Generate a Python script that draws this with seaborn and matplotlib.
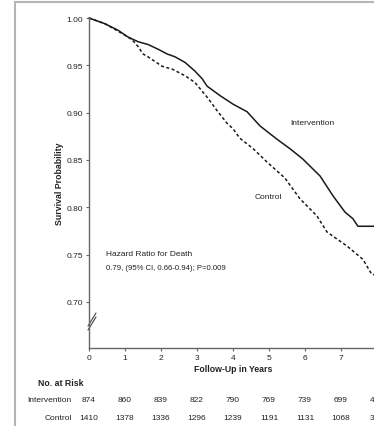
import matplotlib
matplotlib.use("Agg")
import matplotlib.pyplot as plt
import matplotlib.transforms as mtransforms
from matplotlib.lines import Line2D
import seaborn as sns
import pandas as pd

# Kaplan-Meier survival estimates (years, probability)
intervention_t = [0.00, 0.44, 0.81, 1.08, 1.36, 1.64, 1.92, 2.17, 2.39, 2.67, 2.94, 3.14,
                  3.28, 3.64, 4.00, 4.39, 4.75, 5.22, 5.58, 5.94, 6.42, 6.78, 7.11, 7.33,
                  7.47, 8.50]
intervention_s = [1.000, 0.994, 0.987, 0.980, 0.975, 0.972, 0.967, 0.962, 0.959, 0.953,
                  0.944, 0.936, 0.928, 0.918, 0.909, 0.901, 0.886, 0.872, 0.862, 0.851,
                  0.833, 0.812, 0.795, 0.788, 0.780, 0.780]

control_t = [0.00, 0.44, 0.81, 1.08, 1.22, 1.36, 1.50, 1.64, 2.03, 2.31, 2.67, 2.94,
             3.31, 3.56, 3.83, 4.00, 4.19, 4.56, 4.94, 5.44, 5.86, 6.33, 6.61, 7.17,
             7.61, 7.81, 7.86, 8.50]
control_s = [1.000, 0.994, 0.986, 0.980, 0.976, 0.970, 0.962, 0.959, 0.949, 0.946,
             0.939, 0.932, 0.915, 0.902, 0.889, 0.883, 0.873, 0.862, 0.848, 0.831,
             0.809, 0.791, 0.774, 0.759, 0.745, 0.732, 0.729, 0.729]

# Number at risk at each yearly tick
risk_years = [0, 1, 2, 3, 4, 5, 6, 7, 8]
risk_intervention = [874, 860, 839, 822, 790, 769, 739, 699, 452]
risk_control = [1410, 1378, 1336, 1296, 1239, 1191, 1131, 1068, 381]

y_ticks = [0.70, 0.75, 0.80, 0.85, 0.90, 0.95, 1.00]
x_ticks = [0, 1, 2, 3, 4, 5, 6, 7, 8]

sns.set_style("ticks")
plt.rcParams["font.family"] = ["Liberation Sans", "DejaVu Sans"]
TXT = "#222222"
AXC = "#666666"

W, H = 374, 427
fig = plt.figure(figsize=(W / 100, H / 100), dpi=100)
fig.patch.set_facecolor("white")

# axis box in pixel terms: x 89..377, y 19..349
ax = fig.add_axes([89 / W, 1 - 349 / H, 288 / W, 330 / H])
ax.set_facecolor("white")

df_i = pd.DataFrame({"t": intervention_t, "s": intervention_s})
df_c = pd.DataFrame({"t": control_t, "s": control_s})
sns.lineplot(data=df_i, x="t", y="s", ax=ax, color="#1a1a1a", lw=1.1,
             estimator=None, sort=False, clip_on=False)
sns.lineplot(data=df_c, x="t", y="s", ax=ax, color="#1a1a1a", lw=1.1,
             estimator=None, sort=False, dashes=False, clip_on=False,
             linestyle=(0, (2.0, 1.6)))

ax.set_xlim(0, 8)
ax.set_ylim(0.6514, 1.0)
ax.set_xticks(x_ticks)
ax.set_xticklabels([str(v) for v in x_ticks])
ax.set_yticks(y_ticks)
ax.set_yticklabels([f"{v:.2f}" for v in y_ticks])
ax.set_xlabel("")
ax.set_ylabel("")
for side in ("top", "right"):
    ax.spines[side].set_visible(False)
for side in ("left", "bottom"):
    ax.spines[side].set_color(AXC)
    ax.spines[side].set_linewidth(1.0)
ax.tick_params(axis="both", length=2.5, width=0.8, color=AXC, labelsize=6,
               labelcolor=TXT, pad=2)

# axis break marks on the y axis
for dy in (0.0, 4.0):
    x0, y0 = 88 - 89, 331 - dy
    x1, y1 = 96 - 89, 318 - dy
    tr = ax.transAxes
    p0 = (x0 / 288, 1 - (y0 - 19) / 330)
    p1 = (x1 / 288, 1 - (y1 - 19) / 330)
    ax.add_line(Line2D([p0[0], p1[0]], [p0[1], p1[1]], transform=tr,
                       color="#444444", lw=0.8, clip_on=False))

# curve labels and hazard ratio note
ax.text(5.58, 0.890, "Intervention", fontsize=6, color=TXT, va="center", ha="left")
ax.text(4.61, 0.811, "Control", fontsize=6, color=TXT, va="center", ha="left")
ax.text(0.47, 0.751, "Hazard Ratio for Death", fontsize=6, color=TXT, va="center")
ax.text(0.47, 0.736, "0.79, (95% CI, 0.66-0.94); P=0.009", fontsize=5.6,
        color=TXT, va="center")

# axis titles
blend = mtransforms.blended_transform_factory(ax.transData, fig.transFigure)
ax.text(4, 1 - 370 / H, "Follow-Up in Years", transform=blend, ha="center",
        va="center", fontsize=6.3, fontweight="bold", color=TXT)
fig.text(59 / W, 1 - 184 / H, "Survival Probability", rotation=90, ha="center",
         va="center", fontsize=6.3, fontweight="bold", color=TXT)

# number-at-risk table
fig.text(61 / W, 1 - 384 / H, "No. at Risk", ha="center", va="center",
         fontsize=6.3, fontweight="bold", color=TXT)
fig.text(72 / W, 1 - 401 / H, "Intervention", ha="right", va="center",
         fontsize=6, color=TXT)
fig.text(72 / W, 1 - 419 / H, "Control", ha="right", va="center",
         fontsize=6, color=TXT)
for yr, ni, nc in zip(risk_years, risk_intervention, risk_control):
    ax.text(yr, 1 - 401 / H, str(ni), transform=blend, ha="center", va="center",
            fontsize=6, color=TXT, clip_on=False)
    ax.text(yr, 1 - 419 / H, str(nc), transform=blend, ha="center", va="center",
            fontsize=6, color=TXT, clip_on=False)

# light grey panel frame
fig.add_artist(Line2D([15 / W, 15 / W], [0, 1 - 3 / H], transform=fig.transFigure,
                      color="#b4b4b4", lw=1.5))
fig.add_artist(Line2D([15 / W, 1], [1 - 3 / H, 1 - 3 / H], transform=fig.transFigure,
                      color="#b4b4b4", lw=1.5))

fig.savefig("out.png", dpi=100)
